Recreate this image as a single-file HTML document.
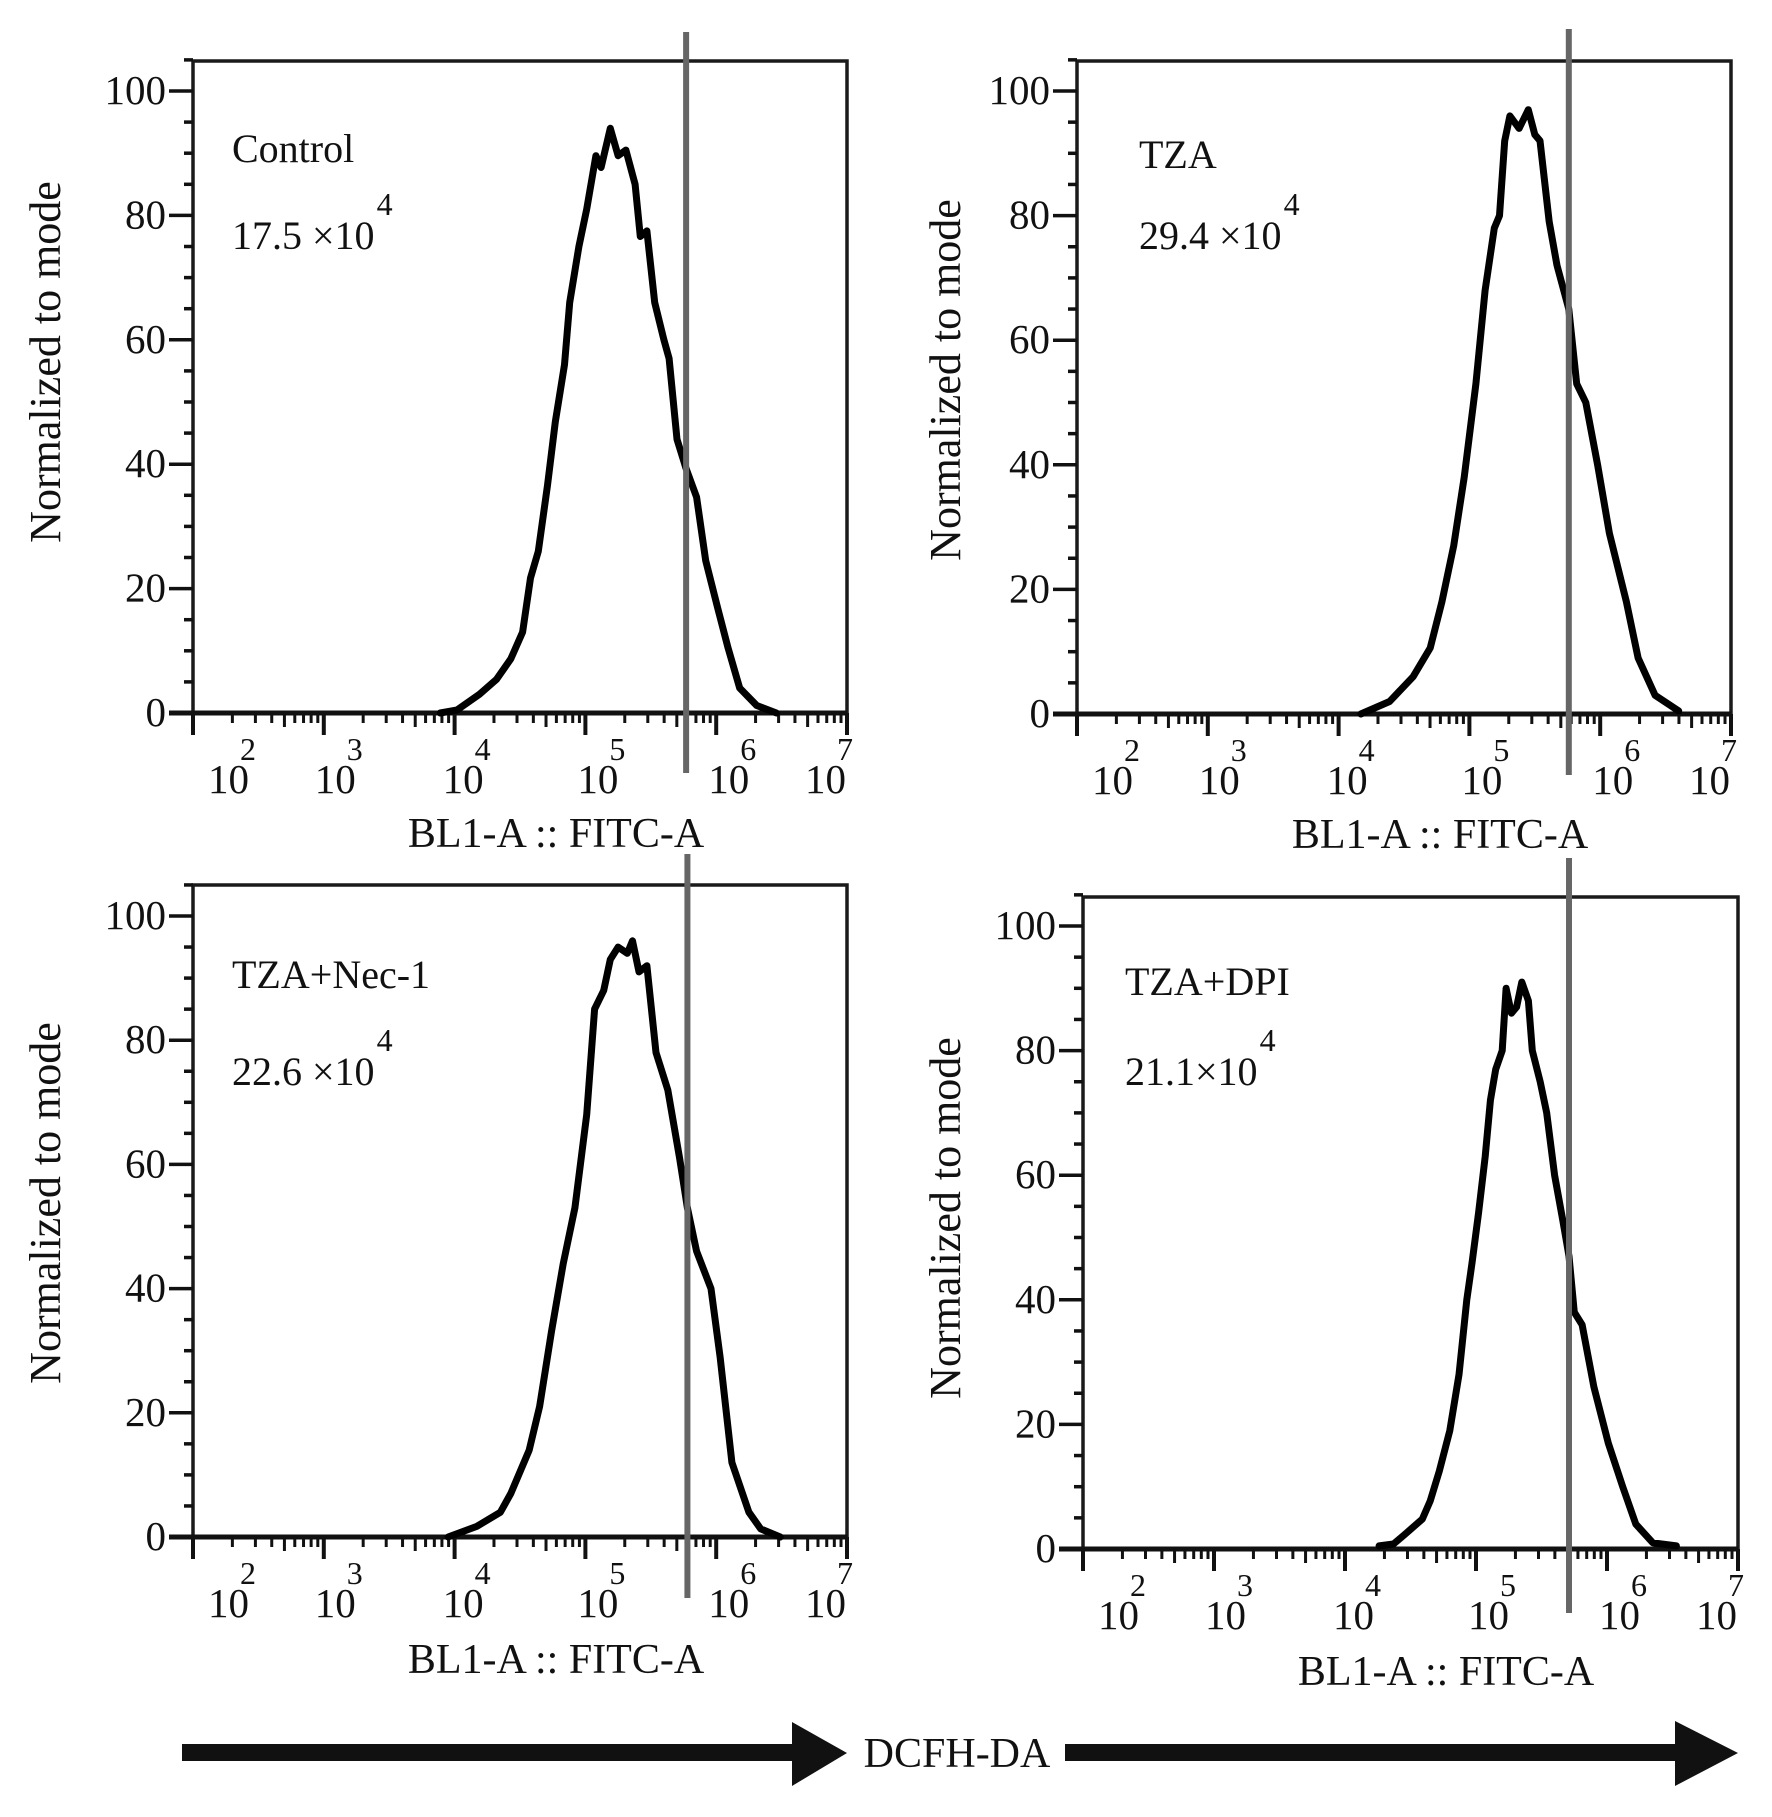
<!DOCTYPE html>
<html><head><meta charset="utf-8"><style>
html,body{margin:0;padding:0;background:#fff;}
svg{display:block;font-family:"Liberation Serif",serif;}
</style></head><body>
<svg id="fig" width="1772" height="1817" viewBox="0 0 1772 1817" xmlns="http://www.w3.org/2000/svg">
<rect width="1772" height="1817" fill="#fff"/>
</svg>
<script>
// ---- data (log10 fluorescence, normalized-to-mode %) ----
const panelLabels = ["Control","TZA","TZA+Nec-1","TZA+DPI"];
const panelMeans = ["17.5 ×10","29.4 ×10","22.6 ×10","21.1×10"];
const xTickExponents = [2,3,4,5,6,7];
const yTickValues = [0,20,40,60,80,100];
const gateLog = [5.77,5.76,5.78,5.71];
const controlX = [3.89,4.02,4.19,4.32,4.43,4.52,4.58,4.64,4.71,4.77,4.84,4.88,4.95,5.01,5.08,5.12,5.19,5.25,5.31,5.38,5.42,5.47,5.53,5.60,5.64,5.70,5.77,5.85,5.92,6.01,6.09,6.18,6.31,6.46];
const controlY = [0,0.5,3,5.4,8.7,13,21.7,26,36.6,46.8,56,66,75,81,89.6,87.7,94,89.6,90.5,85,76.6,77.5,66,60,57,44,39.3,34.7,24.5,17,10.5,4,1.2,0];
const tzaX = [4.17,4.39,4.57,4.70,4.79,4.88,4.96,5.05,5.12,5.19,5.23,5.27,5.31,5.38,5.45,5.50,5.54,5.61,5.67,5.76,5.82,5.89,5.98,6.07,6.20,6.29,6.42,6.60];
const tzaY = [0,2,6,10.6,18,27,38,53,68,78,80,92,96,94,97,93,92,79,72,65,53,50,40,29,18,9,3,0.5];
const necX = [3.95,4.17,4.35,4.43,4.57,4.65,4.74,4.83,4.92,5.01,5.07,5.14,5.19,5.25,5.32,5.36,5.41,5.47,5.54,5.63,5.72,5.78,5.85,5.96,6.03,6.12,6.25,6.34,6.49];
const necY = [0,1.7,4,7,14,21,33,44,53,68,85,88,93,95,94,96,91,92,78,72,61,53,46,40,29,12,4,1.3,0];
const dpiX = [4.26,4.37,4.46,4.59,4.65,4.72,4.80,4.87,4.93,4.97,5.02,5.07,5.11,5.15,5.20,5.23,5.27,5.31,5.35,5.40,5.43,5.49,5.54,5.60,5.66,5.71,5.75,5.81,5.90,6.01,6.12,6.22,6.35,6.53];
const dpiY = [0.5,0.8,2.4,4.8,7.7,12.5,19,28,40,46,54,63,72,77,80,90,86,87,91,88,80,75,70,60,53,47,38,36,26,17,10,4,1,0.5];
const seriesX = [controlX,tzaX,necX,dpiX];
const seriesY = [controlY,tzaY,necY,dpiY];

// ---- layout (not data) ----
const layout = [
 {l:193,r:847,t:61,y0:713,y100:91,gT:32,gB:773,ytx:46,yty:362,ann:[232,162,249],titleDy:134},
 {l:1077,r:1731,t:61,y0:714,y100:91,gT:29,gB:775,ytx:946,yty:380,ann:[1139,168,249],titleDy:134},
 {l:193,r:847,t:885,y0:1537,y100:916,gT:854,gB:1598,ytx:46,yty:1203,ann:[232,988,1085],titleDy:136},
 {l:1083,r:1738,t:897,y0:1549,y100:926,gT:858,gB:1613,ytx:946,yty:1218,ann:[1125,995,1085],titleDy:136}
];
const labelOff = [15,-9,-12,-8,-8,-42];
const NS="http://www.w3.org/2000/svg";
const svg=document.getElementById('fig');
function mk(tag,attrs,parent){const e=document.createElementNS(NS,tag);for(const k in attrs)e.setAttribute(k,attrs[k]);(parent||svg).appendChild(e);return e;}

layout.forEach((L,i)=>{
  const g=mk('g',{});
  
  
  const xs=v=>L.l+(v-2)*(L.r-L.l)/5;
  const ys=v=>L.y0-(v/100)*(L.y0-L.y100);
  const fr=mk('path',{d:`M${L.l},${L.y0} L${L.l},${L.t} L${L.r},${L.t} L${L.r},${L.y0}`,fill:'none',stroke:'#1a1a1a','stroke-width':3.5},g);
  
  
  for(let v=0;v<=105;v+=5){
    const major=v%20===0;
    const tk=mk('line',{x1:L.l-(major?24:9),x2:L.l,y1:ys(v),y2:ys(v),stroke:'#111','stroke-width':3.5},g);
    
    
  }
  yTickValues.forEach(v=>{
    const t=mk('text',{x:L.l-27,y:ys(v)+13,'text-anchor':'end','font-size':41,fill:'#111'},g);
    t.textContent=v;
    
    
  });
  const ax=mk('line',{x1:L.l-24,x2:L.r,y1:L.y0,y2:L.y0,stroke:'#111','stroke-width':5},g);
  
  
  for(let d=2;d<=7;d++){
    const mj=mk('line',{x1:xs(d),x2:xs(d),y1:L.y0,y2:L.y0+22,stroke:'#111','stroke-width':4},g);
    
    
    if(d<7)for(let k=2;k<=9;k++){
      const xv=xs(d+Math.log10(k));
      const mn=mk('line',{x1:xv,x2:xv,y1:L.y0,y2:L.y0+(k===5?14:10),stroke:'#111','stroke-width':3},g);
      
      
    }
  }
  xTickExponents.forEach((e,j)=>{
    const x0=xs(e)+labelOff[j];
    const t=mk('text',{x:x0,y:L.y0+80,'font-size':41,fill:'#111'},g);
    t.textContent='10';
    
    
    const s=mk('text',{x:x0+32,y:L.y0+47,'font-size':32,fill:'#111'},g);
    s.textContent=e;
    
    
  });
  const xt=mk('text',{x:L.l+363,y:L.y0+L.titleDy,'text-anchor':'middle','font-size':42,fill:'#111'},g);
  xt.textContent='BL1-A :: FITC-A';
  
  
  const yt=mk('text',{x:0,y:0,'text-anchor':'middle','font-size':44,fill:'#111',transform:`translate(${L.ytx+14},${L.yty}) rotate(-90)`},g);
  yt.textContent='Normalized to mode';
  
  
  const a1=mk('text',{x:L.ann[0],y:L.ann[1],'font-size':40,fill:'#111'},g);
  a1.textContent=panelLabels[i];
  
  
  const a2=mk('text',{x:L.ann[0],y:L.ann[2],'font-size':40,fill:'#111'},g);
  a2.textContent=panelMeans[i];
  
  
  const bb=a2.getComputedTextLength();
  const a3=mk('text',{x:L.ann[0]+bb+2,y:L.ann[2]-34,'font-size':32,fill:'#111'},g);
  a3.textContent='4';
  
  
  const X=seriesX[i],Y=seriesY[i];
  let d='';
  X.forEach((v,k)=>{d+=(k?'L':'M')+xs(v).toFixed(1)+','+ys(Y[k]).toFixed(1)+' ';});
  const c=mk('path',{d:d,fill:'none',stroke:'#000','stroke-width':7,'stroke-linejoin':'round','stroke-linecap':'round'},g);
  
  
  const gl=mk('line',{x1:xs(gateLog[i]),x2:xs(gateLog[i]),y1:L.gT,y2:L.gB,stroke:'#666','stroke-width':6},g);
  
  
});
const arr=mk('g',{});


mk('rect',{x:182,y:1744,width:615,height:17,fill:'#111'},arr);
mk('polygon',{points:'792,1722 847,1753 792,1786',fill:'#111'},arr);
mk('rect',{x:1065,y:1744,width:615,height:17,fill:'#111'},arr);
mk('polygon',{points:'1675,1721 1738,1753 1675,1786',fill:'#111'},arr);
const dt=mk('text',{x:957,y:1767,'text-anchor':'middle','font-size':42,fill:'#111'},arr);
dt.textContent='DCFH-DA';


</script>
</body></html>
